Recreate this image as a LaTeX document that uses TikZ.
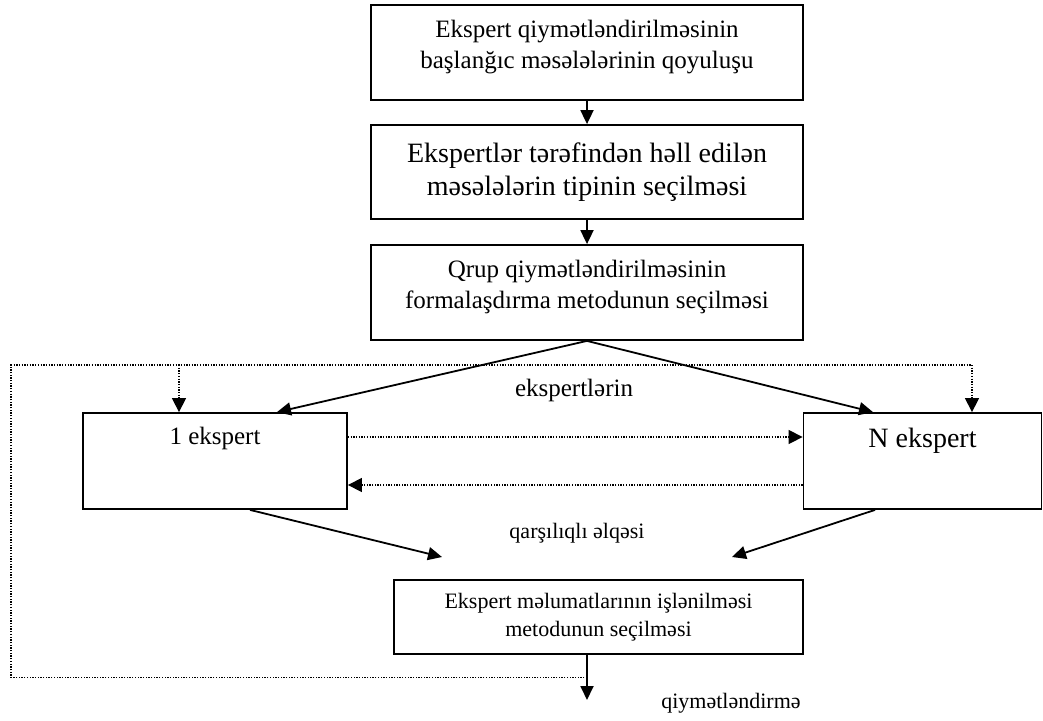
\documentclass[tikz,border=0pt]{standalone}
\usepackage{fontspec}
\setmainfont{Liberation Serif}
\usetikzlibrary{arrows.meta,calc}

\begin{document}
\begin{tikzpicture}[
    x=1pt, y=-1pt,
    stage/.style={draw, line width=1.8pt, inner sep=0pt, align=center},
    link/.style={line width=1.8pt, -{Triangle[length=14pt,width=13pt]}},
    fback/.style={line width=1.3pt, dash pattern=on 1.3pt off 1.4pt},
    fbarrow/.style={fback, -{Triangle[length=14pt,width=14pt]}},
    note/.style={inner sep=0pt}
  ]
  \useasboundingbox (0,0) rectangle (1043,720);

  \node[stage] (b1) at (587,52.5)
    {\parbox[c][95pt][t]{432pt}{\centering\fontsize{25}{31}\selectfont\vspace{15pt}%
      Ekspert qiymətləndirilməsinin\\başlanğıc məsələlərinin qoyuluşu}};
  \node[stage, minimum width=432pt, minimum height=94pt,
    font=\fontsize{28}{33}\selectfont] (b2) at (587,172)
    {Ekspertlər tərəfindən həll edilən\\məsələlərin tipinin seçilməsi};
  \node[stage] (b3) at (587,292.5)
    {\parbox[c][95pt][t]{432pt}{\centering\fontsize{25}{31}\selectfont\vspace{15pt}%
      Qrup qiymətləndirilməsinin\\formalaşdırma metodunun seçilməsi}};

  \node[stage] (e1) at (215,461)
    {\parbox[c][96pt][t]{264pt}{\centering\fontsize{25}{31}\selectfont\vspace{14pt}%
      1 ekspert}};
  \node[stage] (eN) at (922.5,461)
    {\parbox[c][96pt][t]{238pt}{\centering\fontsize{28}{33}\selectfont\vspace{15pt}%
      N ekspert}};

  \node[stage, minimum width=409pt, minimum height=74pt,
    font=\fontsize{22}{28}\selectfont] (b4) at (598.5,617)
    {Ekspert məlumatlarının işlənilməsi\\metodunun seçilməsi};

  \node[note, font=\fontsize{25}{30}\selectfont] (lbl1) at (574,390) {ekspertlərin};
  \node[note, font=\fontsize{22}{26}\selectfont] (lbl2) at (577,533) {qarşılıqlı əlqəsi};
  \node[note, font=\fontsize{22}{26}\selectfont] (lbl3) at (731,703) {qiymətləndirmə};

  \coordinate (out) at (587,700);
  \coordinate (m1) at (442,557);
  \coordinate (mN) at (732,557);
  \coordinate (corner) at (11,365);
  \coordinate (t1) at ([xshift=-36pt]e1.north);
  \coordinate (tN) at ([xshift=49.5pt]eN.north);
  \coordinate (fbstart) at ($(b4.south -| out)!0.5!(out)$);

  \draw[link] (b1) -- (b2);
  \draw[link] (b2) -- (b3);
  \draw[link] (b3.south) -- ([xshift=62pt]e1.north);
  \draw[link] (b3.south) -- ([xshift=-49.5pt]eN.north);
  \draw[link] ([xshift=35pt]e1.south) -- (m1);
  \draw[link] ([xshift=-47.5pt]eN.south) -- (mN);
  \draw[link] (b4.south -| out) -- (out);

  \draw[fbarrow] ([yshift=24pt]e1.east) -- ([yshift=24pt]eN.west);
  \draw[fbarrow] ([yshift=-24pt]eN.west) -- ([yshift=-24pt]e1.east);
  \draw[fbarrow] (fbstart) -| (corner) -| (tN);
  \draw[fbarrow] (t1 |- corner) -- (t1);
\end{tikzpicture}
\end{document}
